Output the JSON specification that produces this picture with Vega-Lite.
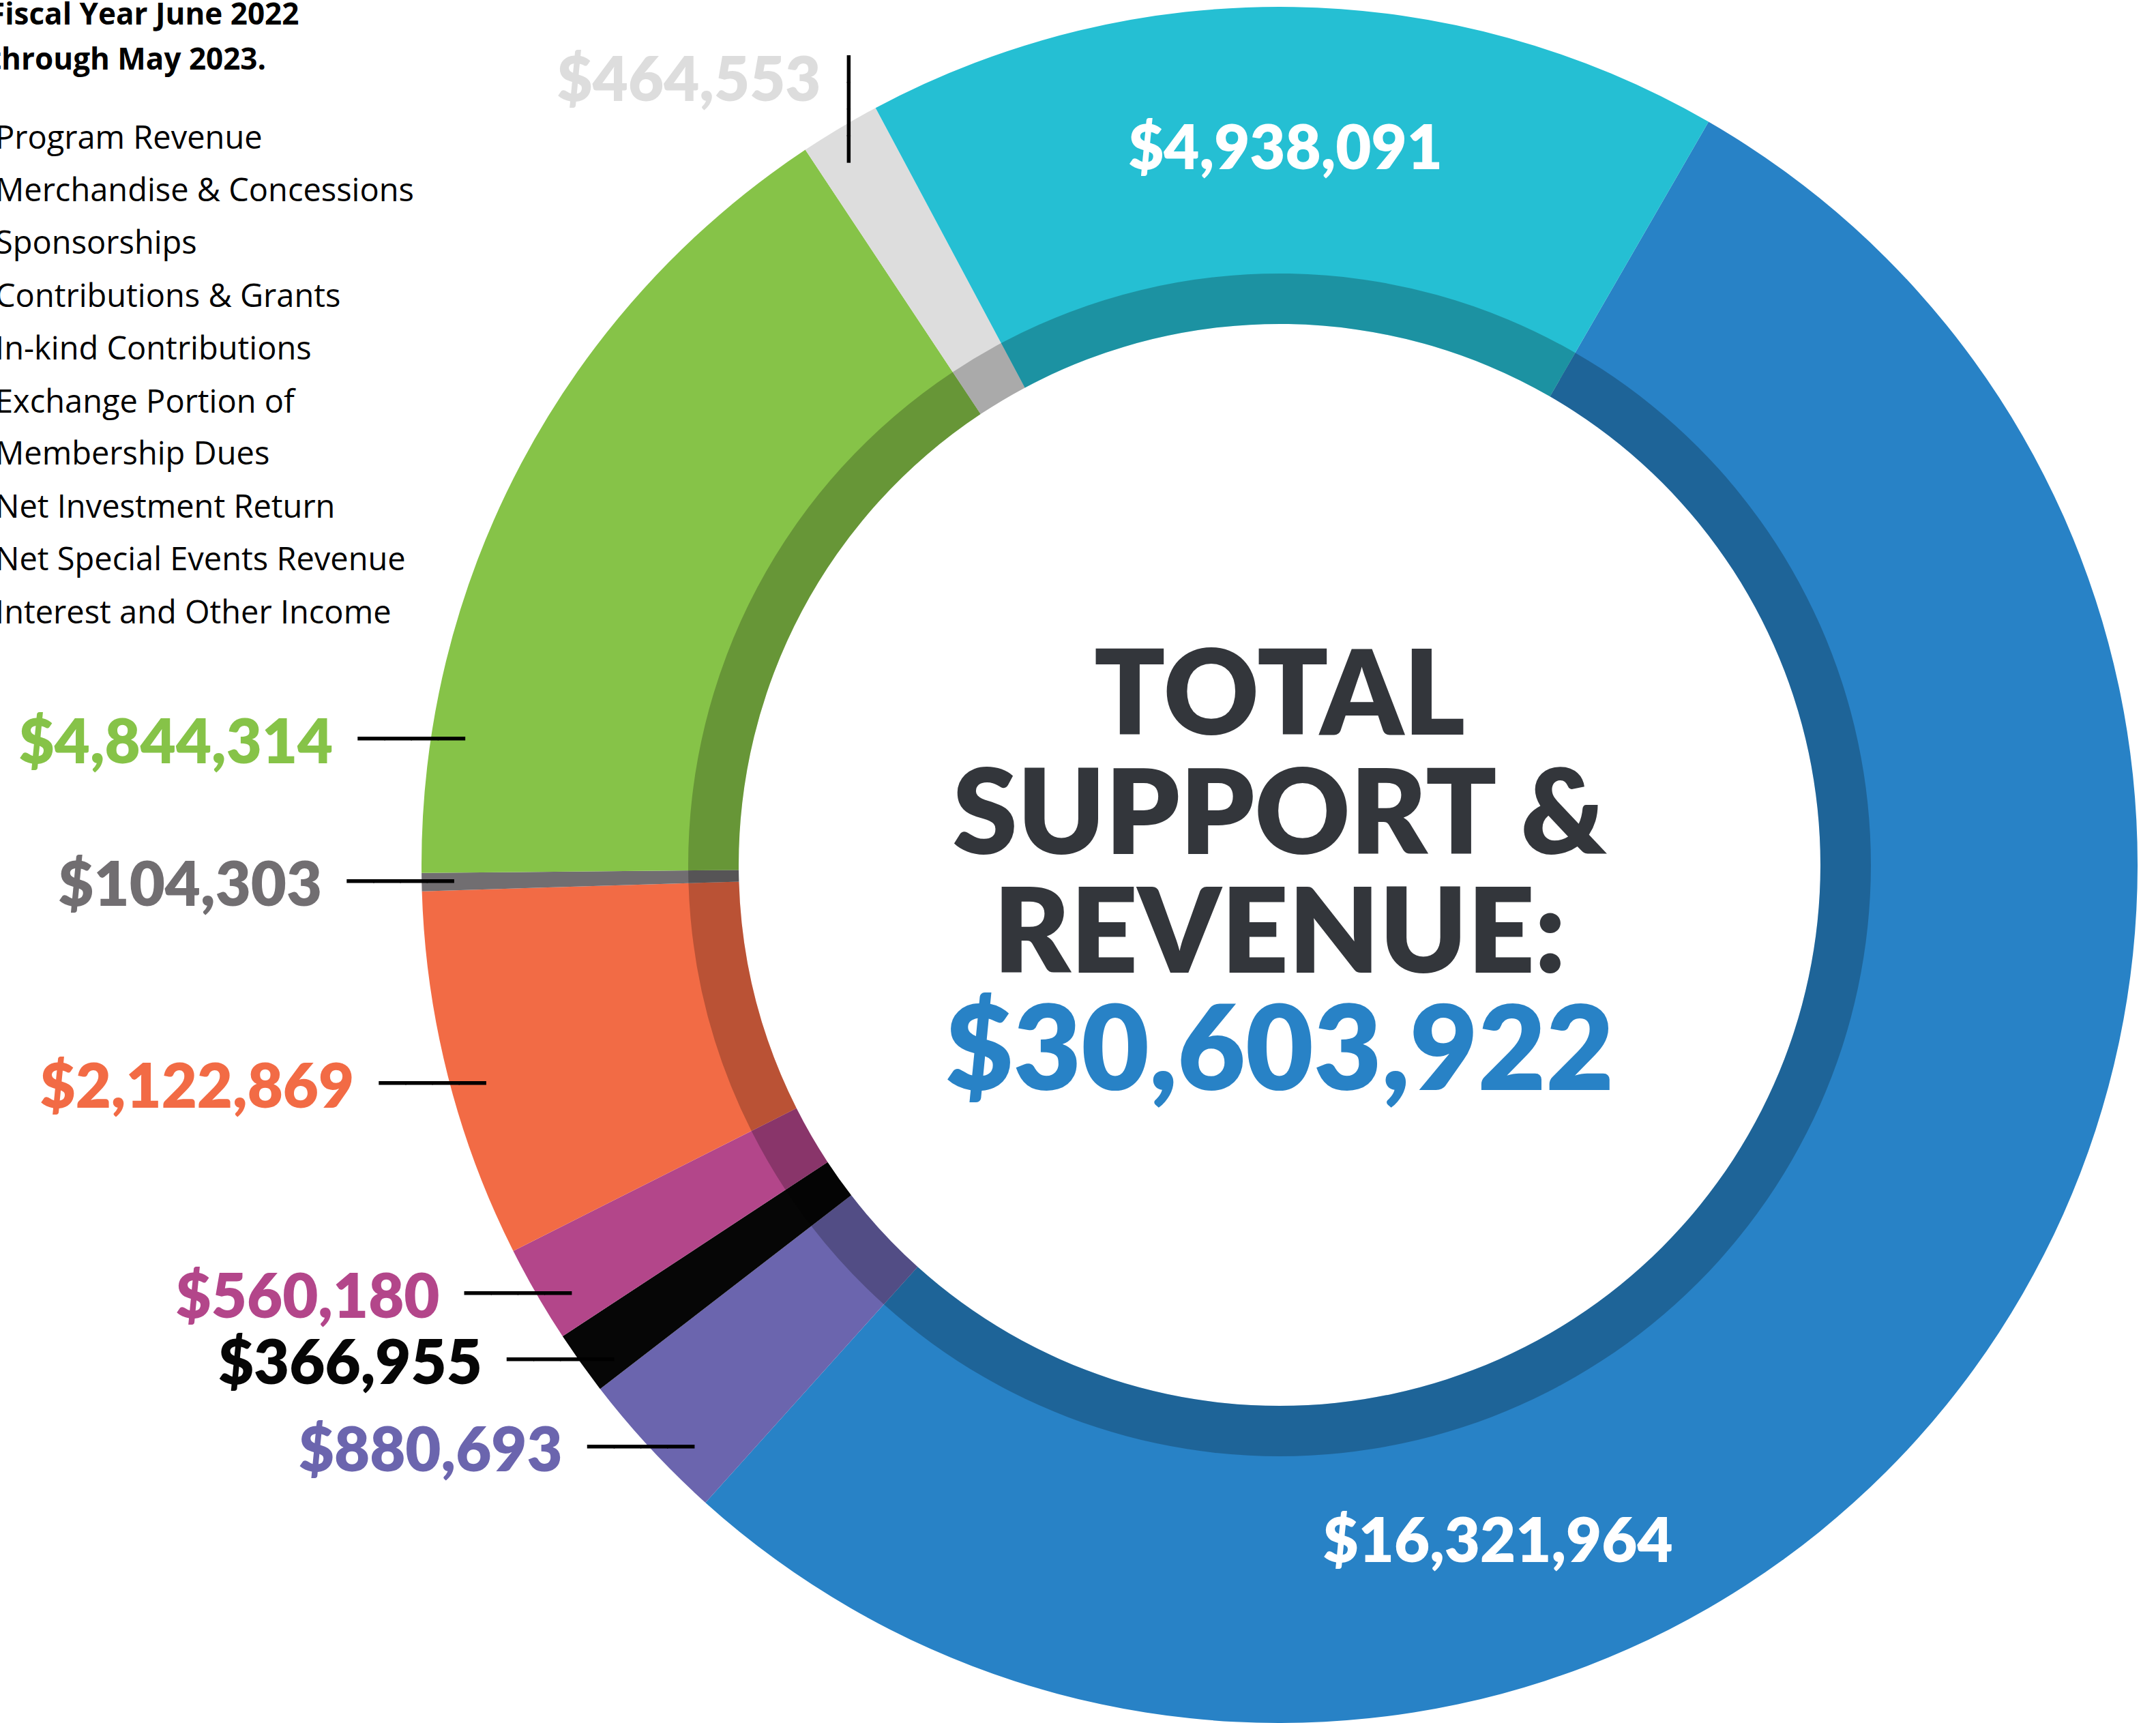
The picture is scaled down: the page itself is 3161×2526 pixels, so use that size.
{
  "$schema": "https://vega.github.io/schema/vega-lite/v6.json",
  "autosize": {"type": "none"},
  "padding": {"left": 592, "top": 10, "right": 1, "bottom": 0},
  "width": 2568,
  "height": 2516,
  "background": "#ffffff",
  "config": {"view": {"stroke": null}, "font": "Lato"},
  "data": {
    "values": [
      {"rank": 1, "category": "Program Revenue", "value": 16321964},
      {"rank": 2, "category": "Merchandise & Concessions", "value": 880693},
      {"rank": 3, "category": "Sponsorships", "value": 366955},
      {"rank": 4, "category": "Contributions & Grants", "value": 560180},
      {"rank": 5, "category": "In-kind Contributions", "value": 2122869},
      {"rank": 6, "category": "Exchange Portion of Membership Dues", "value": 104303},
      {"rank": 7, "category": "Net Investment Return", "value": 4844314},
      {"rank": 8, "category": "Net Special Events Revenue", "value": 464553},
      {"rank": 9, "category": "Interest and Other Income", "value": 4938091}
    ]
  },
  "layer": [
    {
      "encoding": {
        "theta": {"field": "value", "type": "quantitative", "stack": true, "scale": {"range": [0.5236, 6.8068]}},
        "order": {"field": "rank", "type": "quantitative"},
        "color": {
          "field": "category",
          "type": "nominal",
          "scale": {
            "domain": ["Program Revenue", "Merchandise & Concessions", "Sponsorships", "Contributions & Grants", "In-kind Contributions", "Exchange Portion of Membership Dues", "Net Investment Return", "Net Special Events Revenue", "Interest and Other Income"],
            "range": ["#2882C6", "#6B65AE", "#060606", "#B3468A", "#F26B45", "#716E71", "#86C348", "#DDDDDD", "#25BFD3"]
          },
          "legend": {
            "orient": "none",
            "legendX": -609,
            "legendY": -9,
            "direction": "vertical",
            "title": ["Fiscal Year June 2022", "through May 2023."],
            "titleFont": "Open Sans",
            "titleFontSize": 44,
            "titleFontWeight": 700,
            "titleLineHeight": 66,
            "titleColor": "#000000",
            "titleLimit": 3000,
            "titlePadding": 69,
            "labelFont": "Open Sans",
            "labelFontSize": 47,
            "labelFontWeight": 400,
            "labelColor": "#000000",
            "labelLimit": 3000,
            "labelOffset": -37,
            "labelExpr": "datum.label == 'Exchange Portion of Membership Dues' ? ['Exchange Portion of', 'Membership Dues'] : datum.label",
            "symbolType": "circle",
            "symbolSize": 64,
            "symbolStrokeWidth": 0,
            "symbolOpacity": 0,
            "rowPadding": 29.4,
            "padding": 0,
            "encode": {"labels": {"update": {"lineHeight": {"value": 76.7}}}}
          }
        }
      },
      "layer": [
        {"mark": {"type": "arc", "outerRadius": 1258, "innerRadius": 793}},
        {"mark": {"type": "arc", "outerRadius": 867, "innerRadius": 793, "opacity": 0.23}, "encoding": {"color": {"value": "#000000"}}},
        {
          "mark": {"type": "text", "radius": 1211, "align": "right", "baseline": "middle", "dx": -183, "dy": 31, "font": "Lato", "fontWeight": 800, "fontSize": 90},
          "encoding": {"text": {"condition": {"test": {"field": "category", "oneOf": ["Sponsorships", "Contributions & Grants", "In-kind Contributions"]}, "field": "value", "type": "quantitative", "format": "$,.0f"}, "value": ""}}
        },
        {
          "mark": {"type": "text", "radius": 1211, "align": "right", "baseline": "middle", "dx": 10, "dy": 24, "font": "DejaVu Sans Mono", "fontSize": 65},
          "encoding": {"color": {"value": "#000000"}, "text": {"condition": {"test": {"field": "category", "oneOf": ["Sponsorships", "Contributions & Grants", "In-kind Contributions"]}, "value": "────"}, "value": ""}}
        },
        {
          "mark": {"type": "text", "radius": 1211, "align": "right", "baseline": "middle", "dx": -163, "dy": 39, "font": "Lato", "fontWeight": 800, "fontSize": 90},
          "encoding": {"text": {"condition": {"test": {"field": "category", "equal": "Merchandise & Concessions"}, "field": "value", "type": "quantitative", "format": "$,.0f"}, "value": ""}}
        },
        {
          "mark": {"type": "text", "radius": 1211, "align": "right", "baseline": "middle", "dx": 30, "dy": 32, "font": "DejaVu Sans Mono", "fontSize": 65},
          "encoding": {"color": {"value": "#000000"}, "text": {"condition": {"test": {"field": "category", "equal": "Merchandise & Concessions"}, "value": "────"}, "value": ""}}
        },
        {
          "mark": {"type": "text", "radius": 1211, "align": "right", "baseline": "middle", "dx": -193, "dy": 9, "font": "Lato", "fontWeight": 800, "fontSize": 90},
          "encoding": {"text": {"condition": {"test": {"field": "category", "equal": "Exchange Portion of Membership Dues"}, "field": "value", "type": "quantitative", "format": "$,.0f"}, "value": ""}}
        },
        {
          "mark": {"type": "text", "radius": 1211, "align": "right", "baseline": "middle", "dx": 0, "dy": 2, "font": "DejaVu Sans Mono", "fontSize": 65},
          "encoding": {"color": {"value": "#000000"}, "text": {"condition": {"test": {"field": "category", "equal": "Exchange Portion of Membership Dues"}, "value": "────"}, "value": ""}}
        },
        {
          "mark": {"type": "text", "radius": 1211, "align": "right", "baseline": "middle", "dx": -318, "dy": 392, "font": "Lato", "fontWeight": 800, "fontSize": 90},
          "encoding": {"text": {"condition": {"test": {"field": "category", "equal": "Net Investment Return"}, "field": "value", "type": "quantitative", "format": "$,.0f"}, "value": ""}}
        },
        {
          "mark": {"type": "text", "radius": 1211, "align": "right", "baseline": "middle", "dx": -125, "dy": 385, "font": "DejaVu Sans Mono", "fontSize": 65},
          "encoding": {"color": {"value": "#000000"}, "text": {"condition": {"test": {"field": "category", "equal": "Net Investment Return"}, "value": "────"}, "value": ""}}
        },
        {
          "mark": {"type": "text", "radius": 1211, "align": "right", "baseline": "middle", "dx": -52, "dy": -107, "font": "Lato", "fontWeight": 800, "fontSize": 90},
          "encoding": {"text": {"condition": {"test": {"field": "category", "equal": "Net Special Events Revenue"}, "field": "value", "type": "quantitative", "format": "$,.0f"}, "value": ""}}
        },
        {
          "mark": {"type": "text", "radius": 1211, "align": "right", "baseline": "middle", "angle": 90, "dx": 10, "dy": 14, "font": "DejaVu Sans Mono", "fontSize": 65},
          "encoding": {"color": {"value": "#000000"}, "text": {"condition": {"test": {"field": "category", "equal": "Net Special Events Revenue"}, "value": "────"}, "value": ""}}
        },
        {
          "mark": {"type": "text", "radius": 1052, "align": "center", "baseline": "middle", "dx": -9, "dy": 5, "font": "Lato", "fontWeight": 800, "fontSize": 90},
          "encoding": {"color": {"value": "#ffffff"}, "text": {"condition": {"test": {"field": "category", "equal": "Interest and Other Income"}, "field": "value", "type": "quantitative", "format": "$,.0f"}, "value": ""}}
        },
        {
          "mark": {"type": "text", "radius": 1052, "align": "center", "baseline": "middle", "dx": -531, "dy": 377, "font": "Lato", "fontWeight": 800, "fontSize": 90},
          "encoding": {"color": {"value": "#ffffff"}, "text": {"condition": {"test": {"field": "category", "equal": "Program Revenue"}, "field": "value", "type": "quantitative", "format": "$,.0f"}, "value": ""}}
        }
      ]
    },
    {
      "transform": [{"aggregate": [{"op": "sum", "field": "value", "as": "total"}]}],
      "layer": [
        {
          "mark": {"type": "text", "align": "center", "baseline": "middle", "font": "Lato", "fontWeight": 800, "fontSize": 172, "lineHeight": 174.5, "color": "#33363B", "dy": -243},
          "encoding": {"text": {"value": ["TOTAL", "SUPPORT &", "REVENUE:"]}}
        },
        {
          "mark": {"type": "text", "align": "center", "baseline": "middle", "font": "Lato", "fontWeight": 800, "fontSize": 172, "color": "#2882C6", "dy": 278},
          "encoding": {"text": {"field": "total", "type": "quantitative", "format": "$,.0f"}}
        }
      ]
    }
  ]
}
